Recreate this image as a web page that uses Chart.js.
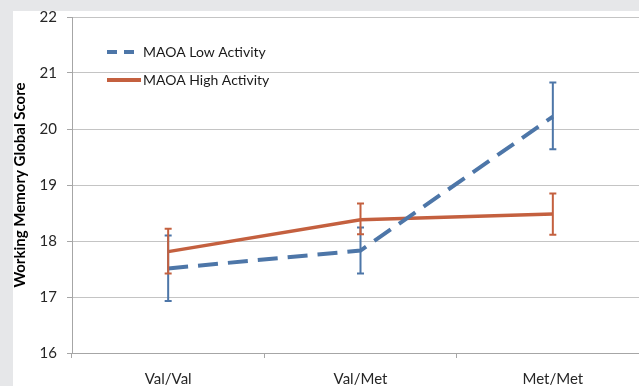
<!DOCTYPE html>
<html>
<head>
<meta charset="utf-8">
<script src="https://cdn.jsdelivr.net/npm/chart.js@4"></script>
<style>
  html, body { margin: 0; padding: 0; overflow: hidden; background: #e6e7e9; }
  #wrap { position: absolute; left: 13px; top: 11px; width: 640px; height: 375px; background: #fff; }
  #chart { display: block; }
</style>
</head>
<body>
<div id="wrap"><canvas id="chart" width="640" height="375"></canvas></div>
<script>
// Chart values
const categories = ['Val/Val', 'Val/Met', 'Met/Met'];
const lowActivity = [17.51, 17.83, 20.22];
const lowErrMin = [16.93, 17.42, 19.64];
const lowErrMax = [18.10, 18.24, 20.83];
const highActivity = [17.81, 18.38, 18.48];
const highErrMin = [17.42, 18.12, 18.11];
const highErrMax = [18.22, 18.67, 18.85];
const yTicks = [16, 17, 18, 19, 20, 21, 22];

const BLUE = '#4d76a8';
const RED = '#c4603f';
const FONT = 'Lato, "Open Sans", sans-serif';

// Error bars from the dataset scales
const errorBars = {
    id: 'errorBars',
    afterDatasetsDraw(chart) {
        const { ctx, scales } = chart;
        const sets = [
            { lo: lowErrMin, hi: lowErrMax, color: BLUE },
            { lo: highErrMin, hi: highErrMax, color: RED }
        ];
        ctx.save();
        ctx.lineWidth = 2;
        for (const s of sets) {
            ctx.strokeStyle = s.color;
            categories.forEach((c, i) => {
                const x = scales.x.getPixelForValue(i);
                const y1 = scales.y.getPixelForValue(s.lo[i]);
                const y2 = scales.y.getPixelForValue(s.hi[i]);
                ctx.beginPath();
                ctx.moveTo(x, y1); ctx.lineTo(x, y2);
                ctx.moveTo(x - 3.5, y1); ctx.lineTo(x + 3.5, y1);
                ctx.moveTo(x - 3.5, y2); ctx.lineTo(x + 3.5, y2);
                ctx.stroke();
            });
        }
        ctx.restore();
    }
};

// Legend inside the plot plus the rotated axis title
const decorations = {
    id: 'decorations',
    afterDraw(chart) {
        const { ctx, chartArea } = chart;
        ctx.save();
        const lx = chartArea.left + 35;
        const rows = [
            { label: 'MAOA Low Activity', color: BLUE, dash: [10, 7], y: 41 },
            { label: 'MAOA High Activity', color: RED, dash: [], y: 69 }
        ];
        ctx.lineWidth = 4;
        ctx.font = '14px ' + FONT;
        ctx.textBaseline = 'middle';
        ctx.fillStyle = '#1a1a1a';
        for (const r of rows) {
            ctx.strokeStyle = r.color;
            ctx.setLineDash(r.dash);
            ctx.beginPath();
            ctx.moveTo(lx, r.y); ctx.lineTo(lx + 34, r.y);
            ctx.stroke();
            ctx.fillText(r.label, lx + 36, r.y);
        }
        ctx.setLineDash([]);
        ctx.translate(7, (chartArea.top + chartArea.bottom) / 2);
        ctx.rotate(-Math.PI / 2);
        ctx.textAlign = 'center';
        ctx.font = 'bold 15px ' + FONT;
        ctx.fillStyle = '#000';
        ctx.fillText('Working Memory Global Score', 0, 0);
        ctx.restore();
    }
};

new Chart(document.getElementById('chart'), {
    type: 'line',
    data: {
        labels: categories,
        datasets: [
            {
                label: 'MAOA Low Activity',
                data: lowActivity,
                borderColor: BLUE,
                borderWidth: 4,
                borderDash: [20, 10],
                pointRadius: 0,
                tension: 0,
                fill: false
            },
            {
                label: 'MAOA High Activity',
                data: highActivity,
                borderColor: RED,
                borderWidth: 3.5,
                pointRadius: 0,
                tension: 0,
                fill: false
            }
        ]
    },
    options: {
        responsive: false,
        animation: false,
        devicePixelRatio: 1,
        layout: { padding: { top: 6, right: 4, left: 0, bottom: 0 } },
        plugins: { legend: { display: false }, tooltip: { enabled: false } },
        scales: {
            x: {
                offset: true,
                grid: { offset: true, drawOnChartArea: false, tickLength: 5, color: '#a6a6a6' },
                border: { color: '#a6a6a6' },
                ticks: { color: '#262626', font: { family: FONT, size: 15 }, padding: 12, maxRotation: 0 },
                afterFit: (s) => { s.height = 33; s.paddingLeft = 0; s.paddingRight = 0; }
            },
            y: {
                min: 16,
                max: 22,
                afterBuildTicks: (s) => { s.ticks = yTicks.map(v => ({ value: v })); },
                grid: { color: '#c4c4c4', tickLength: 5, tickColor: '#a6a6a6' },
                border: { color: '#a6a6a6' },
                ticks: { color: '#262626', font: { family: FONT, size: 15 }, padding: 10 },
                afterFit: (s) => { s.width = 59; s.paddingTop = 0; s.paddingBottom = 0; }
            }
        }
    },
    plugins: [errorBars, decorations]
});
</script>
</body>
</html>
